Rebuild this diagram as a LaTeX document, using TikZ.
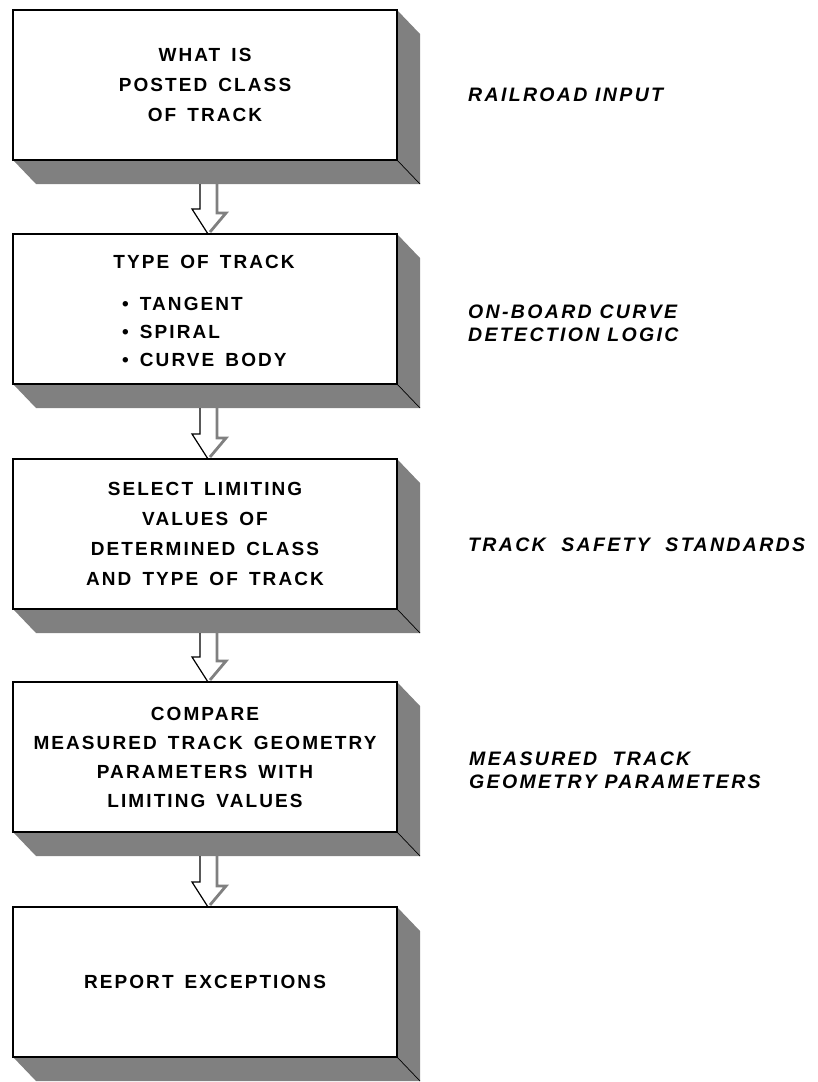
\documentclass[tikz,border=0pt]{standalone}
\usepackage{fontspec}
\setmainfont{Liberation Sans}
\newfontfamily\boxfont[LetterSpace=11,WordSpace=1.5]{Liberation Sans}
\newfontfamily\labfont[LetterSpace=12]{Liberation Sans}
\usetikzlibrary{calc,backgrounds}
\newcommand\depthof[1]{%
  \fill[depth] (#1.south west) -- ++(23,24) -- ($(#1.south east)+(23,24)$)
     -- ($(#1.north east)+(23,24)$) -- (#1.north east) -- (#1.south east) -- cycle;
  \draw[edgeline] (#1.south east) -- ++(23,24);}
\newcommand\flowarrow[2]{%
  \draw[arrowshade] ($(#1.south)+(12,24)$) -- ($(#2.north)+(12,-21)$)
     -- ($(#2.north)+(21,-21)$) -- ($(#2.north)+(5,-2)$);
  \draw[arrowline] ($(#1.south)+(-5,24)$) -- ($(#2.north)+(-5,-25)$)
     -- ($(#2.north)+(-13,-25)$) -- ($(#2.north)+(3,0)$);}
\begin{document}
\begin{tikzpicture}[x=1pt,y=-1pt,
  frontbox/.style={draw, line width=1.1pt, fill=white, minimum width=384pt,
    minimum height=150pt, inner sep=0pt, outer sep=0pt, align=center,
    font=\boxfont\bfseries\fontsize{19}{30}\selectfont},
  boxtext/.style={inner sep=0pt, align=left,
    font=\boxfont\bfseries\fontsize{19}{28}\selectfont},
  depth/.style={fill=black!50},
  edgeline/.style={line width=0.7pt},
  arrowline/.style={line width=1.2pt, line join=miter},
  arrowshade/.style={line width=2.8pt, black!50},
  lab/.style={anchor=west, align=left, inner sep=0pt,
    font=\labfont\bfseries\itshape\fontsize{19.5}{23}\selectfont}]
\useasboundingbox (0,0) rectangle (817,1082);

\node[frontbox] (b1) at (205,85) {WHAT IS\\POSTED CLASS\\OF TRACK};
\node[frontbox] (b2) at (205,309) {};
\node[boxtext] (b2h) at ($(b2.center)+(-1,-47)$) {TYPE OF TRACK};
\node[boxtext, anchor=north west] (b2l) at ($(b2.center)+(-83,-12)$)
  {\textbullet\ TANGENT\\\textbullet\ SPIRAL\\\textbullet\ CURVE BODY};
\node[frontbox] (b3) at (205,534) {SELECT LIMITING\\VALUES OF\\DETERMINED CLASS\\AND TYPE OF TRACK};
\node[frontbox, font=\boxfont\bfseries\fontsize{19}{29}\selectfont] (b4) at (205,757) {COMPARE\\MEASURED TRACK GEOMETRY\\PARAMETERS WITH\\LIMITING VALUES};
\node[frontbox] (b5) at (205,982) {REPORT EXCEPTIONS};

\begin{scope}[on background layer]
  \fill[white] (0,0) rectangle (817,1082);
  \depthof{b1}\depthof{b2}\depthof{b3}\depthof{b4}\depthof{b5}
\end{scope}

\flowarrow{b1}{b2}
\flowarrow{b2}{b3}
\flowarrow{b3}{b4}
\flowarrow{b4}{b5}

\node[lab] (l1) at (468,95) {RAILROAD INPUT};
\node[lab] (l2) at (468,323) {ON-BOARD CURVE\\DETECTION LOGIC};
\node[lab] (l3) at (468,545) {TRACK\ \ SAFETY\ \ STANDARDS};
\node[lab] (l4) at (469,770) {MEASURED\ \ TRACK\\GEOMETRY PARAMETERS};
\end{tikzpicture}
\end{document}
